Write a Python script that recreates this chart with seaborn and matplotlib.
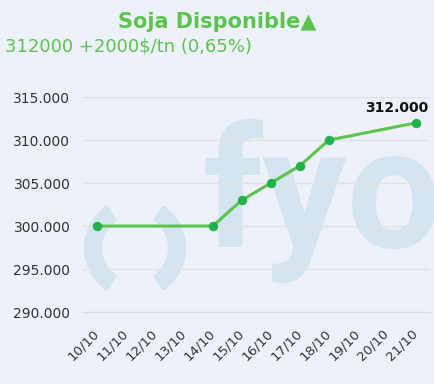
import numpy as np
import pandas as pd
import matplotlib.pyplot as plt
import seaborn as sns
from matplotlib.patches import Arc
from matplotlib.ticker import FuncFormatter

sns.set_style("white")
plt.rcParams['font.family'] = ['DejaVu Sans']

days = ["10/10", "11/10", "12/10", "13/10", "14/10", "15/10",
        "16/10", "17/10", "18/10", "19/10", "20/10", "21/10"]
dates = ["10/10", "14/10", "15/10", "16/10", "17/10", "18/10", "21/10"]
prices = [300000, 300000, 303000, 305000, 307000, 310000, 312000]
y_ticks = [290000, 295000, 300000, 305000, 310000, 315000]

df = pd.DataFrame({"fecha": dates, "precio": prices})
df["pos"] = df["fecha"].map({d: i for i, d in enumerate(days)})

bg = "#edf1f9"
wm = "#d4e5ef"
fig = plt.figure(figsize=(4.35, 3.84), dpi=100, facecolor=bg)
ax = fig.add_axes([0.189, 0.1875, 0.8, 0.5595])
ax.set_facecolor(bg)

# watermark logo
ax.text(0.345, 0.302, "fyo", transform=ax.transAxes, fontsize=121, fontweight="bold",
        family="Roboto", color=wm, ha="left", va="baseline", zorder=0.1, clip_on=False)
for t1, t2 in [(123, 237), (-57, 57)]:
    ax.add_patch(Arc((1.35, 1.36), 0.84, 0.84, theta1=t1, theta2=t2,
                     transform=fig.dpi_scale_trans, color=wm, lw=13,
                     capstyle="butt", zorder=0.1, clip_on=False))

sns.lineplot(data=df, x="pos", y="precio", ax=ax, color="#5cc44e", linewidth=2.2,
             marker="o", markersize=6, markerfacecolor="#22b14c",
             markeredgecolor="#22b14c", zorder=3)

ax.set_xlim(-0.5, len(days) - 0.5)
ax.set_ylim(y_ticks[0], y_ticks[-1])
ax.set_yticks(y_ticks)
ax.yaxis.set_major_formatter(FuncFormatter(lambda v, p: f"{int(v):,}".replace(",", ".")))
ax.set_xticks(range(len(days)))
ax.set_xticklabels(days, rotation=45, ha="right", va="center", rotation_mode="anchor")
ax.set_xticks(np.arange(-0.5, len(days)), minor=True)
ax.tick_params(axis="x", which="major", length=0, pad=14, labelsize=9.5, colors="#333333")
ax.tick_params(axis="x", which="minor", length=4, color="#dcdcdc")
ax.tick_params(axis="y", length=0, pad=8.5, labelsize=10, colors="#333333")
ax.grid(axis="y", color="#e2e2e2", linewidth=1)
for s in ["top", "right", "left"]:
    ax.spines[s].set_visible(False)
ax.spines["bottom"].set_color("#dcdcdc")
ax.set_xlabel("")
ax.set_ylabel("")

ax.annotate(f"{prices[-1]:,}".replace(",", "."), (df["pos"].iloc[-1], prices[-1]),
            xytext=(9, 6), textcoords="offset points", ha="right", va="bottom",
            fontsize=10, fontweight="bold", color="#111111")

fig.text(0.5, 0.943, "Soja Disponible▲", ha="center", va="center",
         fontsize=15, fontweight="bold", color="#5cc44e")
fig.text(0.012, 0.878, "312000 +2000$/tn (0,65%)", ha="left", va="center",
         fontsize=13, color="#5cc44e")

fig.savefig("out.png", dpi=100, facecolor=bg)
